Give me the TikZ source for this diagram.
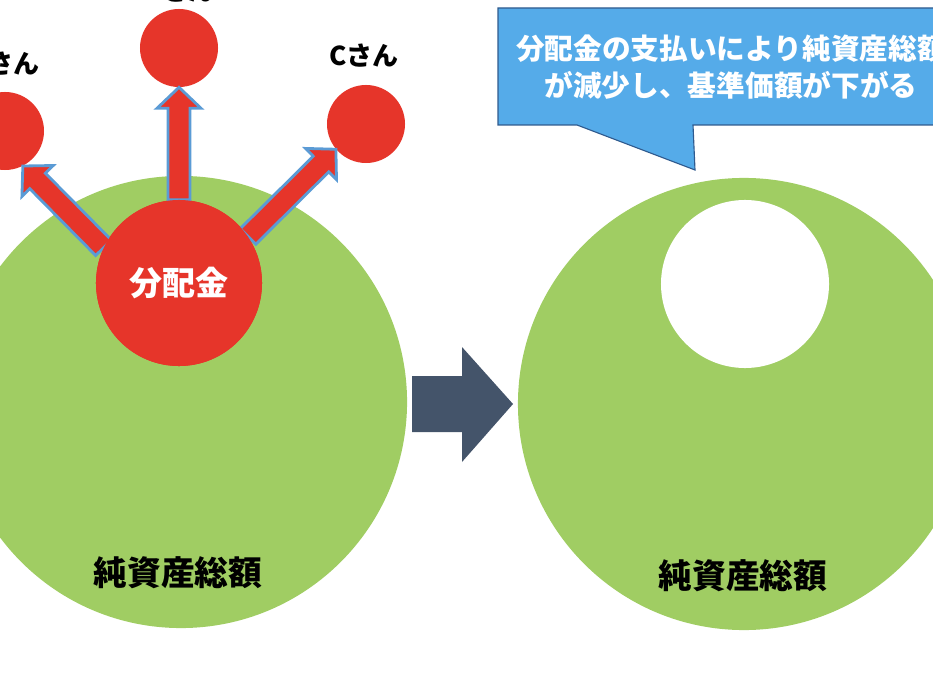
\documentclass[tikz,border=0pt]{standalone}
\usepackage{fontspec}
\newfontfamily\jp{Noto Sans CJK JP}
\usetikzlibrary{calc}

\definecolor{assetgreen}{HTML}{A0CD63}
\definecolor{payred}{HTML}{E6352A}
\definecolor{arrowblue}{HTML}{5B9BD5}
\definecolor{stepgray}{HTML}{44546A}
\definecolor{calloutblue}{HTML}{55ABE9}
\definecolor{calloutline}{HTML}{2F5A8E}

\tikzset{
  asset/.style={circle, fill=assetgreen, minimum size=11.3cm, inner sep=0pt},
  member/.style={circle, fill=payred, minimum size=1.95cm, inner sep=0pt},
  namelabel/.style={font=\jp\bfseries\fontsize{18.5}{22}\selectfont, inner sep=0pt},
  sumlabel/.style={font=\jp\bfseries\fontsize{24}{28}\selectfont, inner sep=0pt},
  payarrow/.style={fill=payred, draw=arrowblue, line width=2pt, line join=miter},
}

% block arrow from #1 to #2
\newcommand{\payout}[2]{%
  \coordinate (pa-s) at (#1);
  \coordinate (pa-t) at (#2);
  \coordinate (pa-h) at ($(pa-t)!0.525cm!(pa-s)$);
  \filldraw[payarrow] ($(pa-s)!0.275cm!90:(pa-t)$) -- ($(pa-h)!0.275cm!90:(pa-t)$)
    -- ($(pa-h)!0.55cm!90:(pa-t)$) -- (pa-t) -- ($(pa-h)!0.55cm!-90:(pa-t)$)
    -- ($(pa-h)!0.275cm!-90:(pa-t)$) -- ($(pa-s)!0.275cm!-90:(pa-t)$) -- cycle;
}

\begin{document}
\begin{tikzpicture}[x=0.025cm, y=-0.025cm]
    \useasboundingbox (0,0) rectangle (933,682);
    \clip (0,0) rectangle (933,682);

    % before
    \node[asset] (total) at (181,402) {};
    \node[member] (memberA) at (5,131) {};
    \node[member] (memberB) at (179,48) {};
    \node[member] (memberC) at (366,124) {};
    \node[namelabel] (labelA) at (5,64) {Aさん};
    \node[namelabel] (labelB) at (179,-9) {Bさん};
    \node[namelabel] (labelC) at (364,56) {Cさん};
    \node[member, minimum size=4.15cm] (fund) at (179,283) {};
    \payout{fund.155}{memberA.-63}
    \payout{fund.north}{memberB.south}
    \payout{fund.34}{memberC.220}
    \node[member, minimum size=4.15cm, text=white, font=\jp\bfseries\fontsize{23.5}{28}\selectfont] at (fund) {分配金};
    \node[sumlabel] (sumbefore) at (178,573) {純資産総額};

    % step
    \fill[stepgray] (412,376) -- (462,376) -- (462,347) -- (513,404) -- (462,462) -- (462,432) -- (412,432) -- cycle;

    % after
    \node[asset] (totalafter) at (744,404) {};
    \node[circle, fill=white, minimum size=4.2cm, inner sep=0pt] (hole) at (745,284) {};
    \node[sumlabel] (sumafter) at (743,576) {純資産総額};

    % callout
    \filldraw[fill=calloutblue, draw=calloutline, line width=0.8pt] (498,8) -- (950,8) -- (950,125) -- (693,125) -- (695,170) -- (577,125) -- (498,125) -- cycle;
    \node[text=white, align=center, inner sep=0pt, font=\jp\bfseries\fontsize{20.4}{26.3}\selectfont] (notice) at (731,67) {分配金の支払いにより純資産総額\\が減少し、基準価額が下がる};
  \end{tikzpicture}
\end{document}
